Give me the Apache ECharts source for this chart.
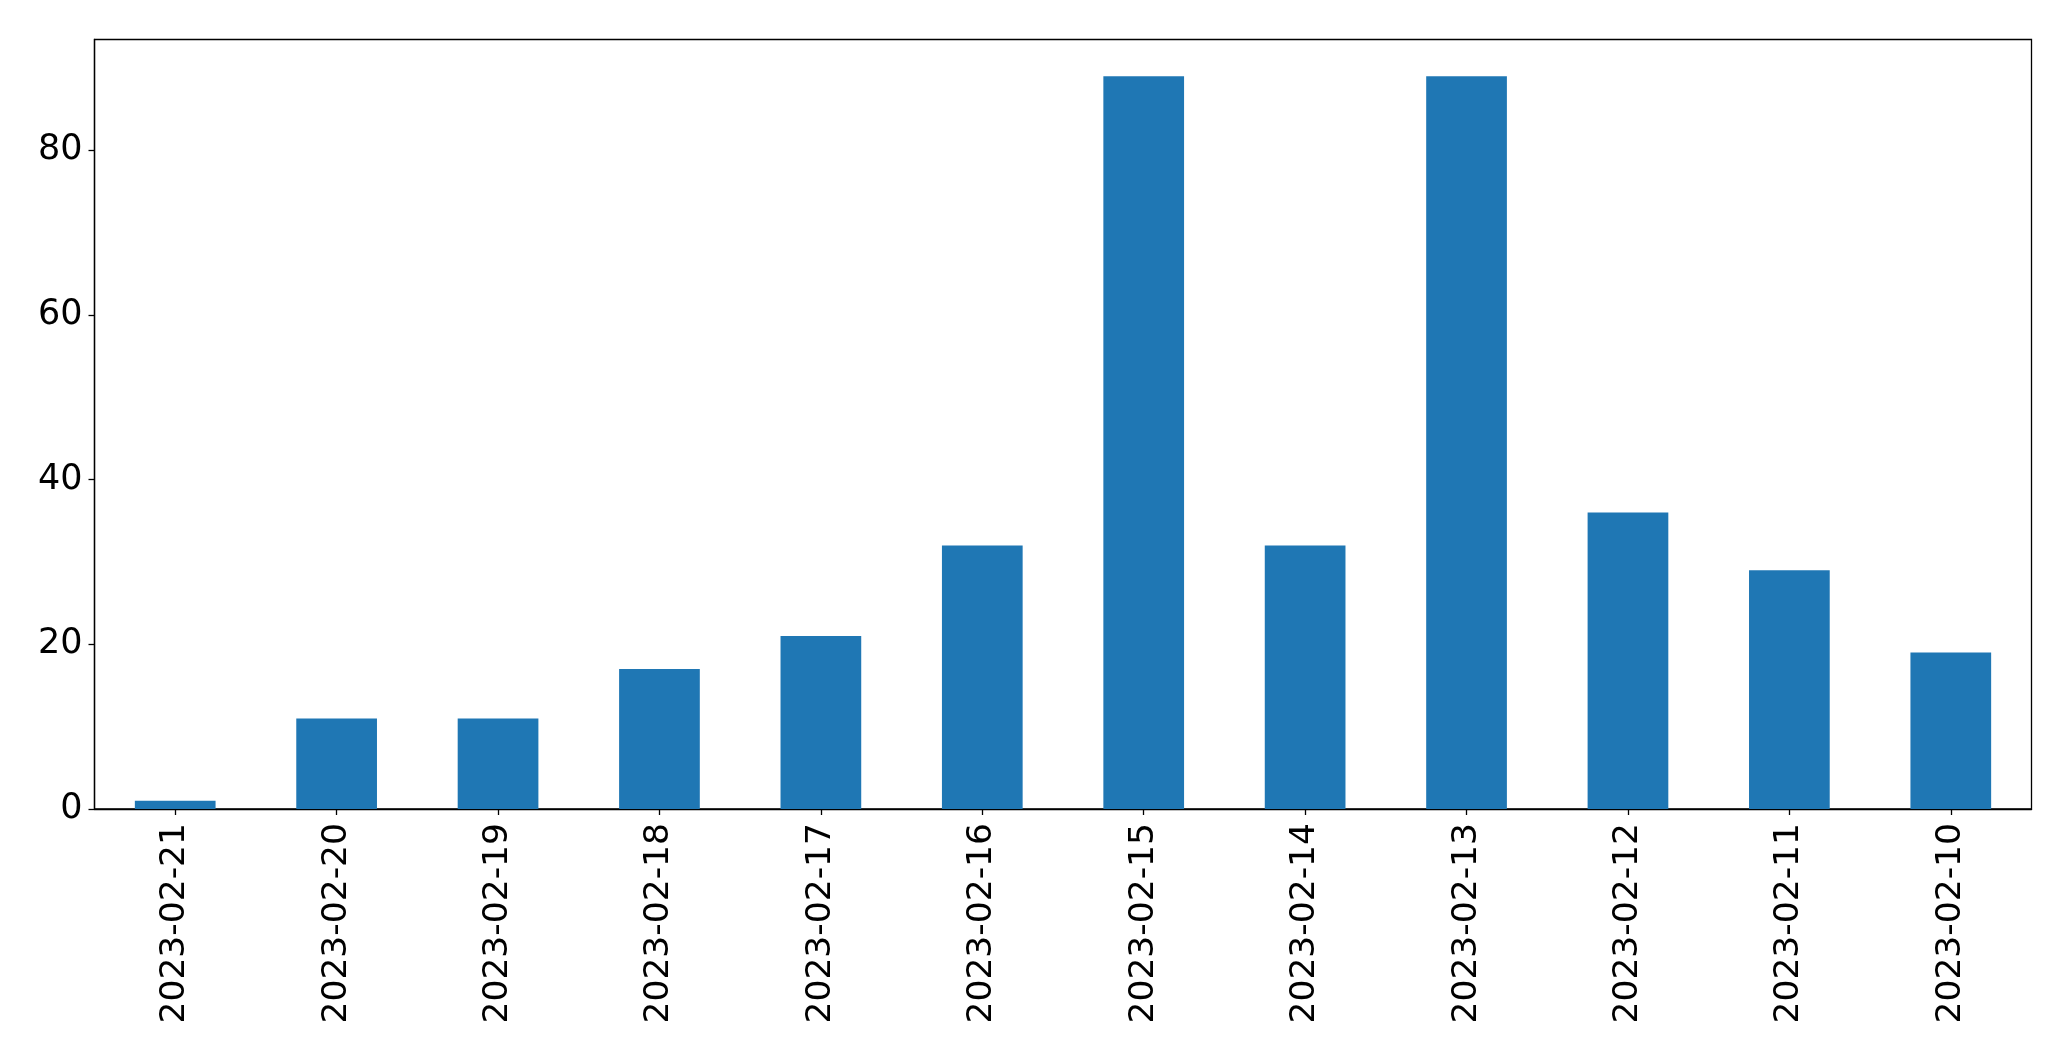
<!DOCTYPE html>
<html>
<head>
<meta charset="utf-8">
<script src="https://cdn.jsdelivr.net/npm/echarts@6/dist/echarts.min.js"></script>
<style>
  html, body { margin: 0; padding: 0; background: #fff; }
  #chart { width: 2071px; height: 1061px; }
</style>
</head>
<body>
<div id="chart"></div>
<script>
const dates = ['2023-02-21', '2023-02-20', '2023-02-19', '2023-02-18', '2023-02-17', '2023-02-16',
               '2023-02-15', '2023-02-14', '2023-02-13', '2023-02-12', '2023-02-11', '2023-02-10'];
const counts = [1, 11, 11, 17, 21, 32, 89, 32, 89, 36, 29, 19];
const yTicks = [0, 20, 40, 60, 80];

const font = 'DejaVu Sans';
const chart = echarts.init(document.getElementById('chart'));
chart.setOption({
    animation: false,
    backgroundColor: '#fff',
    grid: {
        left: 94.5, right: 39.5, top: 39.5, bottom: 252,
        show: true, borderColor: '#000', borderWidth: 1.3, backgroundColor: 'transparent'
    },
    xAxis: {
        type: 'category',
        data: dates,
        axisLine: { show: true, lineStyle: { color: '#000', width: 1.3 } },
        axisTick: { show: true, alignWithLabel: true, length: 6, lineStyle: { color: '#000', width: 1.3 } },
        axisLabel: { rotate: 90, color: '#000', fontFamily: font, fontSize: 34.5, margin: 14 },
        splitLine: { show: false }
    },
    yAxis: {
        type: 'value',
        min: 0,
        max: 93.45,
        axisLine: { show: true, lineStyle: { color: '#000', width: 1.3 } },
        axisTick: { show: true, length: 6, customValues: yTicks, lineStyle: { color: '#000', width: 1.3 } },
        axisLabel: { color: '#000', fontFamily: font, fontSize: 35, margin: 12, customValues: yTicks },
        splitLine: { show: false }
    },
    series: [{
        type: 'bar',
        data: counts,
        barWidth: '50%',
        itemStyle: { color: '#1f77b4' }
    }]
});
</script>
</body>
</html>
